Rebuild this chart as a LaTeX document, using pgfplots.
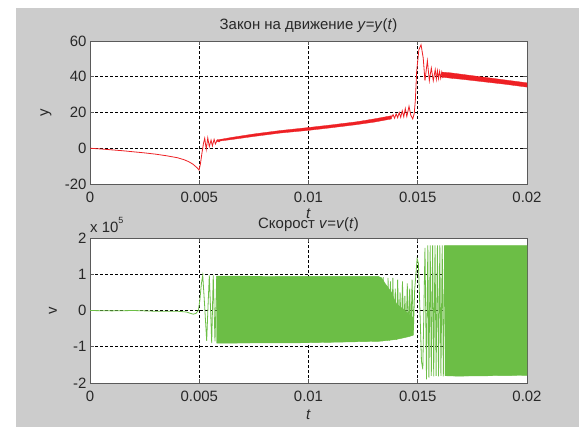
\documentclass[border=0pt]{standalone}
\usepackage{fontspec}
\setmainfont{Liberation Sans}
\usepackage{pgfplots}
\pgfplotsset{compat=1.18}
\definecolor{bggray}{RGB}{204,204,204}
\definecolor{mred}{RGB}{238,32,36}
\definecolor{mgreen}{RGB}{108,190,70}
\definecolor{axgray}{RGB}{90,90,90}
\definecolor{txt}{RGB}{40,40,40}
\pgfplotsset{
  mstyle/.style={
    scale only axis, width=437bp, anchor=south west,
    xmin=0, xmax=0.02, xtick={0,0.005,0.01,0.015,0.02},
    xticklabels={0,0.005,0.01,0.015,0.02},
    scaled x ticks=false, scaled y ticks=false,
    axis background/.style={fill=white},
    grid=major,
    major grid style={black, line width=0.6bp, dash pattern=on 3bp off 2bp},
    axis line style={axgray, line width=0.9bp},
    tick style={axgray, line width=0.8bp},
    tick align=inside, major tick length=4bp,
    every tick label/.append style={font=\fontsize{15}{18}\selectfont, text=txt},
    xticklabel style={anchor=base, yshift=-18bp},
    every axis title/.style={at={(0.5,1)}, anchor=base, font=\fontsize{15}{18}\selectfont, text=txt},
    every axis x label/.style={at={(rel axis cs:0.5,0)}, anchor=center, font=\fontsize{15}{18}\selectfont, text=txt},
    every axis y label/.style={at={(rel axis cs:0,0.5)}, anchor=center, font=\fontsize{15}{18}\selectfont, text=txt},
  }
}
\begin{document}
\begin{tikzpicture}[x=1bp,y=1bp]
\fill[white] (0,0) rectangle (587,427);
\fill[bggray] (16,0) rectangle (579,419);

% ---------- upper axis ----------
\begin{axis}[mstyle, at={(90bp,243bp)}, height=143bp,
  ymin=-20, ymax=60, ytick={-20,0,20,40,60}, yticklabels={-20,0,20,40,60},
  title={Закон на движение \textit{y}=\textit{y}(\textit{t})},
  title style={yshift=11.5bp},
  xlabel={\textit{t}}, xlabel style={yshift=-30bp},
  ylabel={y}, ylabel style={xshift=-44bp, rotate=90},
]
\addplot[mred, line width=0.8bp] coordinates {
(0,0)(0.0005,-0.4)(0.001,-0.9)(0.0015,-1.4)(0.002,-2.0)(0.0025,-2.6)(0.003,-3.3)
(0.0035,-4.2)(0.004,-5.3)(0.0043,-6.4)(0.0045,-7.4)(0.0047,-8.8)(0.0049,-10.9)(0.00499,-12.2)
(0.00505,-9)(0.00512,-3)(0.00519,2.5)(0.00525,5.6)(0.00532,-0.6)(0.00539,5.8)(0.00546,0.9)
(0.00554,4.6)(0.0056,1.3)(0.00568,5.0)(0.00574,2.4)(0.00583,4.6)(0.0059,3.6)(0.006,4.8)
};
\addplot[mred, fill=mred, line width=0.3bp] coordinates {
(0.0058,4.6)(0.0065,6.1)(0.0075,8.0)(0.0087,9.9)(0.0100,11.6)(0.0110,13.0)(0.0122,14.8)(0.0130,16.4)(0.0138,18.2)
(0.0138,16.4)(0.0130,14.6)(0.0122,13.2)(0.0110,11.4)(0.0100,10.0)(0.0087,8.5)(0.0075,6.6)(0.0065,4.9)(0.0058,3.8)(0.0058,4.6)
};
\addplot[mred, line width=0.8bp] coordinates {
(0.01380,17.3)(0.01387,18.8)(0.01394,16.8)(0.01401,19.3)(0.01408,17.1)(0.01415,20.0)(0.01422,17.3)
(0.01429,21.0)(0.01436,17.6)(0.01443,22.2)(0.0145,17.8)(0.0146,23.5)(0.01468,18.5)(0.01477,16.4)
(0.01484,19.5)(0.01489,27)(0.01495,43)(0.01505,55)(0.01515,57.9)(0.01525,50.5)(0.01533,37.8)
(0.01544,49)(0.01553,37.8)(0.01562,44.9)(0.01571,37.8)(0.0158,44)(0.01585,38.6)(0.0159,43.4)
(0.01595,39.0)(0.016,43.0)(0.01605,39.2)(0.0161,42.6)(0.01615,39.3)
};
\addplot[mred, fill=mred, line width=0.3bp] coordinates {
(0.0161,42.6)(0.0165,42.2)(0.0170,41.4)(0.0180,39.8)(0.0190,38.2)(0.0200,36.6)
(0.0200,34.2)(0.0190,35.8)(0.0180,37.2)(0.0170,38.6)(0.0165,39.2)(0.0161,39.8)(0.0161,42.6)
};
\end{axis}

% ---------- lower axis ----------
\begin{axis}[mstyle, at={(90bp,44bp)}, height=145bp, clip mode=individual,
  ymin=-2, ymax=2, ytick={-2,-1,0,1,2}, yticklabels={-2,-1,0,1,2},
  title={Скорост \textit{v}=\textit{v}(\textit{t})},
  title style={yshift=9.5bp},
  xlabel={\textit{t}}, xlabel style={yshift=-32bp},
  ylabel={v}, ylabel style={xshift=-37bp, rotate=90},
]
\addplot[mgreen, line width=0.8bp] coordinates {
(0,0)(0.001,-0.01)(0.002,0.0)(0.003,-0.02)(0.004,-0.02)(0.0044,-0.04)(0.0046,-0.08)(0.00473,-0.1)
(0.00485,-0.08)(0.00496,0)(0.00503,0.3)(0.0051,0.75)(0.00516,0.97)(0.00525,0.1)(0.00534,-0.84)
(0.0054,0.1)(0.00546,0.97)(0.00552,0)(0.00557,-0.9)(0.00564,0.97)(0.00572,-0.85)(0.0058,0.95)
(0.00586,-0.88)(0.00592,0.95)(0.00598,-0.88)
};
\addplot[mgreen, fill=mgreen, line width=0.4bp] coordinates {
(0.0058,0.95)(0.0100,0.94)(0.0132,0.94)(0.01335,0.9)(0.0135,0.75)(0.0138,0.5)(0.0140,0.2)(0.0144,0.0)(0.0148,-0.2)
(0.0148,-0.68)(0.0146,-0.72)(0.0140,-0.8)(0.0132,-0.85)(0.0100,-0.89)(0.0058,-0.9)(0.0058,0.95)
};
\addplot[mgreen, line width=0.8bp] coordinates {
(0.01320,0.93)(0.01326,-0.85)(0.01331,0.85)(0.01337,-0.85)(0.01342,0.92)(0.01348,-0.84)(0.01353,0.7)
(0.01359,-0.84)(0.01364,0.9)(0.0137,-0.83)(0.01375,0.8)(0.01381,-0.82)(0.01386,0.9)(0.01392,-0.8)
(0.01397,0.6)(0.01403,-0.8)(0.01408,0.85)(0.01414,-0.78)(0.01419,0.5)(0.01425,-0.76)(0.0143,0.8)
(0.01436,-0.74)(0.01441,0.4)(0.01447,-0.72)(0.01452,0.75)(0.01458,-0.7)(0.01463,0.6)(0.01469,-0.68)
(0.01474,0.85)(0.0148,-0.55)(0.01486,0.6)(0.01491,0.95)(0.01497,1.43)(0.01503,1.3)(0.01510,0.0)
(0.01517,-1.4)(0.01523,-1.62)(0.01528,0)(0.01533,1.73)(0.0154,-1.9)(0.01546,1.8)(0.01551,-1.85)
(0.01557,1.8)(0.01562,-1.8)(0.01568,1.8)(0.01573,-1.82)(0.01579,1.8)(0.01584,-1.8)(0.0159,1.8)
(0.01595,-1.82)(0.01601,1.8)(0.01606,-1.8)(0.01612,1.8)(0.01617,-1.82)(0.01623,1.8)(0.01628,-1.8)
};
\addplot[mgreen, fill=mgreen, line width=0.4bp] coordinates {
(0.01625,1.79)(0.0200,1.79)(0.0200,-1.79)(0.0168,-1.81)(0.01625,-1.8)(0.01625,1.79)
};
\node[anchor=base west, inner sep=0pt, font=\fontsize{15}{18}\selectfont, text=txt]
  at ([yshift=6bp]rel axis cs:0,1) {x 10\raisebox{9bp}{\fontsize{9}{10}\selectfont 5}};
\end{axis}
\pgfresetboundingbox
\path[use as bounding box] (0,0) rectangle (587,427);
\end{tikzpicture}
\end{document}
